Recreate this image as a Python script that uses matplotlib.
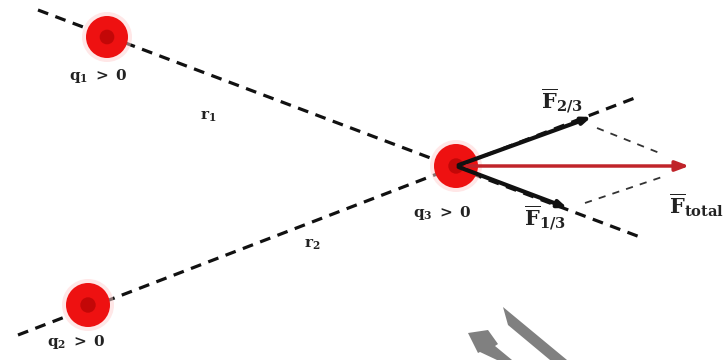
import matplotlib
matplotlib.use("Agg")
import matplotlib.pyplot as plt
from matplotlib.patches import Circle, Polygon

plt.rcParams["mathtext.fontset"] = "dejavuserif"

# charge positions (diagram coordinates)
charge_names = ["q1", "q2", "q3"]
charge_x = [107, 88, 456]
charge_y = [37, 305, 166]
charge_r = [21, 22, 22]
charge_labels = [r"$\mathbf{q_1\ >\ 0}$", r"$\mathbf{q_2\ >\ 0}$", r"$\mathbf{q_3\ >\ 0}$"]
label_x = [98, 76, 442]
label_y = [76, 342, 213]

# dashed lines through charges
line1_x = [38, 640]
line1_y = [10, 237]
line2_x = [18, 640]
line2_y = [335, 96]

# force vectors from q3
f23_end = (594, 116)
f13_end = (570, 209)
ftot_end = (692, 166)

# parallelogram helpers
par1_x = [597, 662]
par1_y = [128, 154]
par2_x = [585, 662]
par2_y = [203, 177]

# text
r_labels = [r"$\mathbf{r_1}$", r"$\mathbf{r_2}$"]
r_x = [208, 312]
r_y = [117, 245]
f_labels = [r"$\overline{\mathbf{F}}_{\mathbf{2/3}}$", r"$\overline{\mathbf{F}}_{\mathbf{1/3}}$",
            r"$\overline{\mathbf{F}}_{\mathbf{total}}$"]
f_x = [562, 545, 696]
f_y = [101, 218, 205]

fig = plt.figure(figsize=(7.28, 3.6), dpi=100)
ax = fig.add_axes([0, 0, 1, 1])
ax.set_xlim(0, 728)
ax.set_ylim(360, 0)
ax.axis("off")

dash = (3.4, 2.4)
ax.plot(line1_x, line1_y, color="#111111", lw=2.3, ls=(0, dash), zorder=2)
ax.plot(line2_x, line2_y, color="#111111", lw=2.3, ls=(0, dash), zorder=2)

ax.plot(par1_x, par1_y, color="#333333", lw=1.3, ls=(0, (4, 4)), zorder=2)
ax.plot(par2_x, par2_y, color="#333333", lw=1.3, ls=(0, (4, 4)), zorder=2)

for x, y, r in zip(charge_x, charge_y, charge_r):
    ax.add_patch(Circle((x, y), r + 4, color="#ffd0d0", alpha=0.5, zorder=3, lw=0))
    ax.add_patch(Circle((x, y), r, color="#ee1111", zorder=4, lw=0))
    ax.add_patch(Circle((x, y), r * 0.35, color="#a00000", alpha=0.55, zorder=5, lw=0))

for t, x, y in zip(charge_labels, label_x, label_y):
    ax.text(x, y, t, fontsize=11, ha="center", va="center", color="#222222", zorder=6)

for t, x, y in zip(r_labels, r_x, r_y):
    ax.text(x, y, t, fontsize=11, ha="center", va="center", color="#222222")

x0, y0 = charge_x[2], charge_y[2]
ax.annotate("", xy=f23_end, xytext=(x0, y0),
            arrowprops=dict(arrowstyle="-|>,head_length=0.5,head_width=0.2", lw=3, color="#111111"), zorder=5)
ax.annotate("", xy=f13_end, xytext=(x0, y0),
            arrowprops=dict(arrowstyle="-|>,head_length=0.5,head_width=0.2", lw=3, color="#111111"), zorder=5)
ax.annotate("", xy=ftot_end, xytext=(x0 + 8, y0),
            arrowprops=dict(arrowstyle="-|>,head_length=0.8,head_width=0.3", lw=2.5, color="#c0242a"), zorder=5)

for t, x, y in zip(f_labels, f_x, f_y):
    ax.text(x, y, t, fontsize=15, ha="center", va="center", color="#222222")

# grey decorative shapes at bottom
grey_a_x = [503, 567, 550, 508]
grey_a_y = [307, 360, 360, 325]
grey_b_x = [468, 488, 498, 495, 512, 497, 480, 478]
grey_b_y = [333, 330, 344, 346, 360, 360, 352, 353]
ax.add_patch(Polygon(list(zip(grey_a_x, grey_a_y)), closed=True, color="#808080", lw=0))
ax.add_patch(Polygon(list(zip(grey_b_x, grey_b_y)), closed=True, color="#808080", lw=0))

fig.savefig("out.png", dpi=100)
